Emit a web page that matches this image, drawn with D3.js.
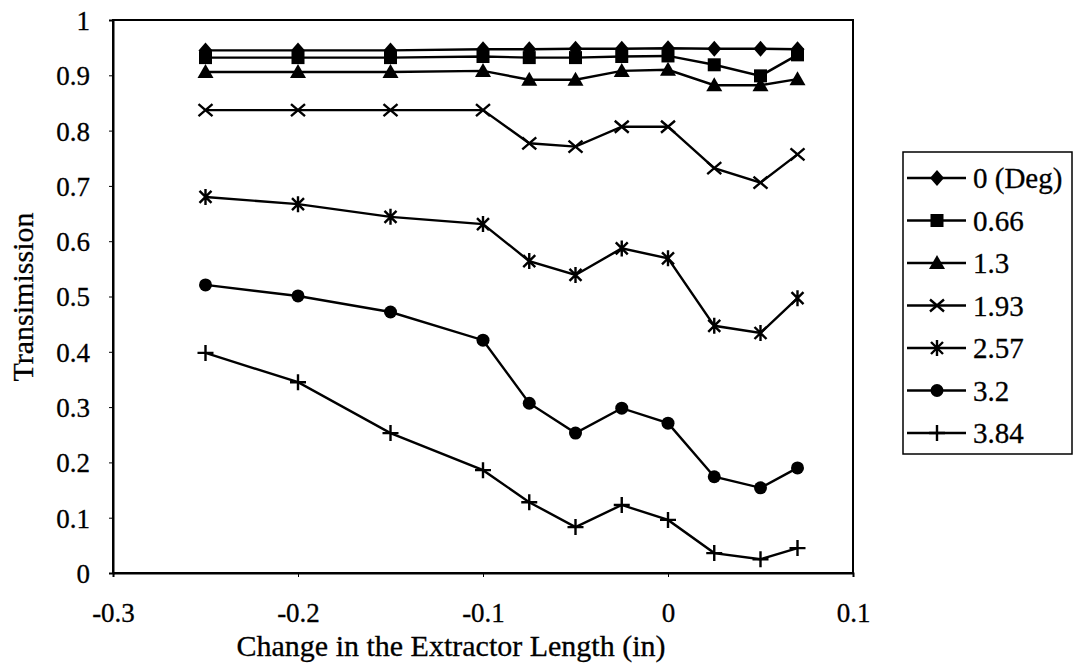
<!DOCTYPE html>
<html><head><meta charset="utf-8">
<script src="https://cdn.jsdelivr.net/npm/d3@7/dist/d3.min.js"></script>
<style>body{margin:0;background:#fff;} svg{display:block;}</style>
</head><body>
<svg id="c" width="1075" height="672"></svg>
<script>
const xValues = [-0.25, -0.2, -0.15, -0.1, -0.075, -0.05, -0.025, 0, 0.025, 0.05, 0.07];
const seriesNames = ["0 (Deg)", "0.66", "1.3", "1.93", "2.57", "3.2", "3.84"];
const s0 = [0.945, 0.945, 0.945, 0.947, 0.947, 0.948, 0.948, 0.949, 0.948, 0.948, 0.947];
const s066 = [0.932, 0.932, 0.932, 0.934, 0.932, 0.932, 0.934, 0.935, 0.919, 0.899, 0.937];
const s13 = [0.906, 0.906, 0.906, 0.908, 0.892, 0.892, 0.908, 0.91, 0.882, 0.882, 0.893];
const s193 = [0.837, 0.837, 0.837, 0.837, 0.777, 0.771, 0.807, 0.807, 0.732, 0.706, 0.757];
const s257 = [0.68, 0.667, 0.644, 0.631, 0.564, 0.539, 0.587, 0.569, 0.447, 0.434, 0.497];
const s32 = [0.521, 0.501, 0.472, 0.421, 0.307, 0.253, 0.298, 0.271, 0.174, 0.154, 0.19];
const s384 = [0.398, 0.345, 0.253, 0.186, 0.128, 0.083, 0.123, 0.096, 0.036, 0.025, 0.045];
const xTicks = [-0.3, -0.2, -0.1, 0, 0.1];
const yTicks = [0, 0.1, 0.2, 0.3, 0.4, 0.5, 0.6, 0.7, 0.8, 0.9, 1];
const markerTypes = ["diamond", "square", "triangle", "x", "star", "circle", "plus"];
const allSeries = [s0, s066, s13, s193, s257, s32, s384];

const svg = d3.select("#c");
const font = "'Liberation Serif', 'Times New Roman', serif";
const L = 113, R = 853, T = 20, B = 573;
const x = d3.scaleLinear().domain([-0.3, 0.1]).range([L, R]);
const y = d3.scaleLinear().domain([0, 1]).range([B, T]);

// frame
svg.append("rect").attr("x", L).attr("y", T).attr("width", R - L).attr("height", B - T)
  .attr("fill", "none").attr("stroke", "#000").attr("stroke-width", 2);

// axes
const fmt = d => (d === 0 || d === 1) ? String(d) : d3.format(".1f")(d).replace("\u2212", "-");
const xAxis = d3.axisBottom(x).tickValues(xTicks).tickSize(4).tickPadding(26).tickFormat(fmt);
const gx = svg.append("g").attr("transform", `translate(0,${B})`).call(xAxis);
const yAxis = d3.axisLeft(y).tickValues(yTicks).tickSize(4).tickPadding(19).tickFormat(fmt);
const gy = svg.append("g").attr("transform", `translate(${L},0)`).call(yAxis);
[gx, gy].forEach(g => {
  g.attr("font-family", font);
  g.select(".domain").attr("stroke", "#000").attr("stroke-width", 2);
  g.selectAll(".tick line").attr("stroke", "#000").attr("stroke-width", 1);
  g.selectAll("text").style("font-family", font).attr("font-size", 27).attr("fill", "#000")
    .attr("stroke", "#000").attr("stroke-width", 0.3);
});
gy.selectAll("text").attr("dy", "0.35em");

// axis titles
svg.append("text").attr("x", 451).attr("y", 656).attr("text-anchor", "middle")
  .style("font-family", font).attr("font-size", 30).attr("stroke", "#000").attr("stroke-width", 0.3)
  .text("Change in the Extractor Length (in)");
svg.append("text").attr("transform", `translate(33,297) rotate(-90)`).attr("text-anchor", "middle")
  .style("font-family", font).attr("font-size", 30).attr("stroke", "#000").attr("stroke-width", 0.3)
  .text("Transimission");

function drawMarker(g, type, cx, cy) {
  const sw = 2.4;
  if (type === "diamond") {
    g.append("path").attr("d", `M${cx},${cy - 8}L${cx + 7},${cy}L${cx},${cy + 8}L${cx - 7},${cy}Z`).attr("fill", "#000");
  } else if (type === "square") {
    g.append("rect").attr("x", cx - 6.5).attr("y", cy - 6.5).attr("width", 13).attr("height", 13).attr("fill", "#000");
  } else if (type === "triangle") {
    g.append("path").attr("d", `M${cx},${cy - 8}L${cx + 8},${cy + 6}L${cx - 8},${cy + 6}Z`).attr("fill", "#000");
  } else if (type === "x") {
    g.append("path").attr("d", `M${cx - 7},${cy - 6}L${cx + 7},${cy + 6}M${cx - 7},${cy + 6}L${cx + 7},${cy - 6}`)
      .attr("stroke", "#000").attr("stroke-width", sw);
  } else if (type === "star") {
    g.append("path").attr("d", `M${cx - 6},${cy - 6}L${cx + 6},${cy + 6}M${cx - 6},${cy + 6}L${cx + 6},${cy - 6}M${cx},${cy - 8}L${cx},${cy + 8}`)
      .attr("stroke", "#000").attr("stroke-width", sw);
  } else if (type === "circle") {
    g.append("circle").attr("cx", cx).attr("cy", cy).attr("r", 6.5).attr("fill", "#000");
  } else if (type === "plus") {
    g.append("path").attr("d", `M${cx - 8},${cy}L${cx + 8},${cy}M${cx},${cy - 8}L${cx},${cy + 8}`)
      .attr("stroke", "#000").attr("stroke-width", sw);
  }
}

const line = d3.line().x(d => x(d[0])).y(d => y(d[1]));
allSeries.forEach((vals, i) => {
  const pts = xValues.map((xv, j) => [xv, vals[j]]);
  const g = svg.append("g");
  g.append("path").attr("d", line(pts)).attr("fill", "none").attr("stroke", "#000").attr("stroke-width", 2.4);
  pts.forEach(p => drawMarker(g, markerTypes[i], x(p[0]), y(p[1])));
});

// legend
const lg = svg.append("g");
lg.append("rect").attr("x", 903).attr("y", 152).attr("width", 169).attr("height", 302)
  .attr("fill", "none").attr("stroke", "#000").attr("stroke-width", 1.5);
seriesNames.forEach((name, i) => {
  const ly = 178 + i * 42.5;
  lg.append("line").attr("x1", 907).attr("x2", 966).attr("y1", ly).attr("y2", ly)
    .attr("stroke", "#000").attr("stroke-width", 2.4);
  drawMarker(lg, markerTypes[i], 937, ly);
  lg.append("text").attr("x", 973).attr("y", ly).attr("dy", "0.35em")
    .style("font-family", font).attr("font-size", 29).attr("stroke", "#000").attr("stroke-width", 0.3)
    .text(name);
});
</script>
</body></html>
